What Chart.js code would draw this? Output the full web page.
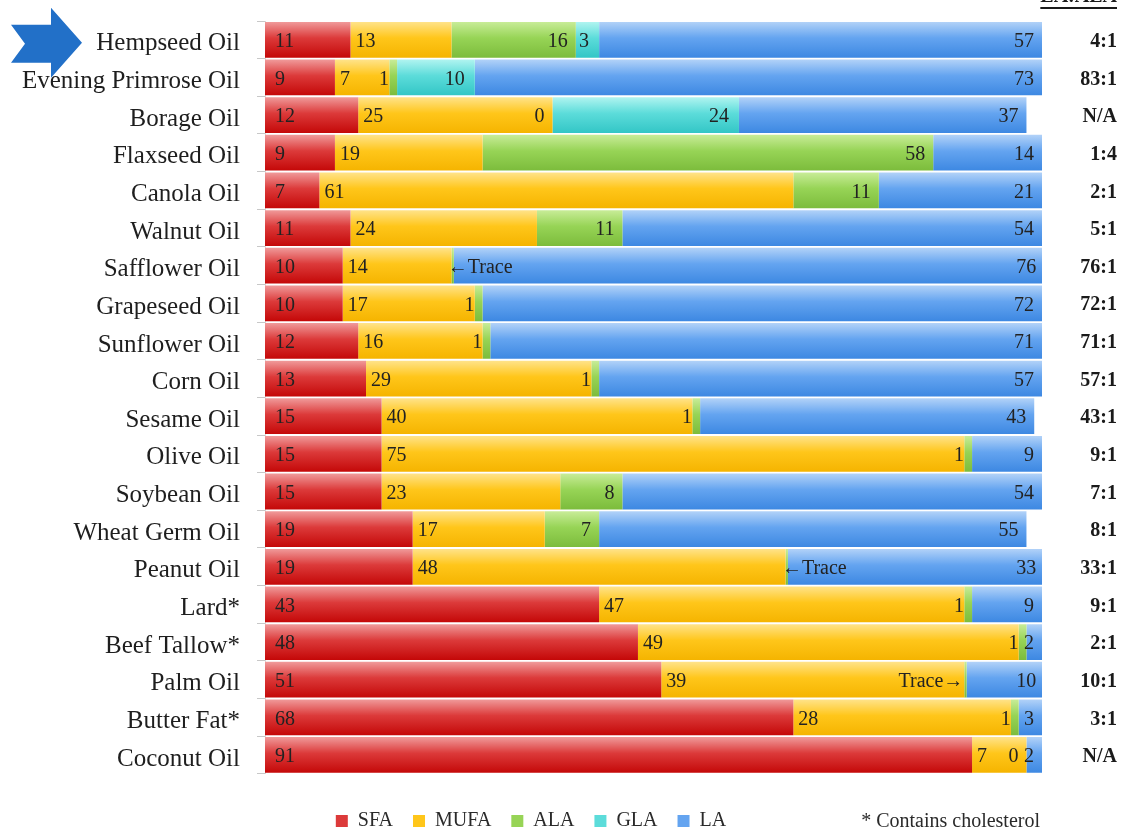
<!DOCTYPE html>
<html>
<head>
<meta charset="utf-8">
<script src="https://cdn.jsdelivr.net/npm/chart.js@4/dist/chart.umd.min.js"></script>
<style>
  html, body { margin: 0; padding: 0; background: #ffffff; }
  #wrap { width: 1126px; height: 834px; position: relative; }
</style>
</head>
<body>
<div id="wrap"><canvas id="chart" width="1126" height="834"></canvas></div>
<script>
// Fatty acid profile of common fats and oils (% of total fat)
const oils = ['Hempseed Oil', 'Evening Primrose Oil', 'Borage Oil', 'Flaxseed Oil', 'Canola Oil',
  'Walnut Oil', 'Safflower Oil', 'Grapeseed Oil', 'Sunflower Oil', 'Corn Oil', 'Sesame Oil',
  'Olive Oil', 'Soybean Oil', 'Wheat Germ Oil', 'Peanut Oil', 'Lard*', 'Beef Tallow*',
  'Palm Oil', 'Butter Fat*', 'Coconut Oil'];

// "Trace" amounts are drawn as a hairline sliver
const TRACE = 0.3;

const sfa  = [11, 9, 12, 9, 7, 11, 10, 10, 12, 13, 15, 15, 15, 19, 19, 43, 48, 51, 68, 91];
const mufa = [13, 7, 25, 19, 61, 24, 14, 17, 16, 29, 40, 75, 23, 17, 48, 47, 49, 39, 28, 7];
const ala  = [16, 1, 0, 58, 11, 11, TRACE, 1, 1, 1, 1, 1, 8, 7, TRACE, 1, 1, TRACE, 1, 0];
const gla  = [3, 10, 24, null, null, null, null, null, null, null, null, null, null, null, null, null, null, null, null, null];
const la   = [57, 73, 37, 14, 21, 54, 76, 72, 71, 57, 43, 9, 54, 55, 33, 9, 2, 10, 3, 2];

// LA : ALA ratio column
const ratios = ['4:1', '83:1', 'N/A', '1:4', '2:1', '5:1', '76:1', '72:1', '71:1', '57:1', '43:1',
  '9:1', '7:1', '8:1', '33:1', '9:1', '2:1', '10:1', '3:1', 'N/A'];

// Notes written in place of a number where ALA is only a trace
const traceNotes = { 6: '\u2190Trace', 14: '\u2190Trace', 17: 'Trace\u2192' };

const seriesNames = ['SFA', 'MUFA', 'ALA', 'GLA', 'LA'];
const ratioHeader = 'LA:ALA';
const footNote = '* Contains cholesterol';

const SERIF = '"Liberation Serif", "DejaVu Serif", serif';
const BAR_PCT = 0.95;

// light-top glossy gradient for each series
const palette = {
  SFA:  ['#f09a9a', '#dc3a3a', '#c40808'],
  MUFA: ['#ffe38a', '#ffc61a', '#f5b400'],
  ALA:  ['#c8ec98', '#97d456', '#7cbc3c'],
  GLA:  ['#b0f4f0', '#5cdcda', '#33c6c6'],
  LA:   ['#b2d2f8', '#64a4f0', '#3d88e2']
};

function gradientFor(name) {
  const stops = palette[name];
  return (ctx) => {
    const chart = ctx.chart;
    const y = chart.scales && chart.scales.y;
    if (ctx.type !== 'data' || !y || !isFinite(y.getPixelForValue(0))) return stops[1];
    const c = y.getPixelForValue(ctx.dataIndex);
    const h = Math.abs(y.getPixelForValue(1) - y.getPixelForValue(0)) * BAR_PCT;
    const g = chart.ctx.createLinearGradient(0, c - h / 2, 0, c + h / 2);
    g.addColorStop(0, stops[0]);
    g.addColorStop(0.45, stops[1]);
    g.addColorStop(1, stops[2]);
    return g;
  };
}

// where each series writes its value inside the segment
const labelSide = { SFA: ['start', 10], MUFA: ['start', 5], ALA: ['end', 8], GLA: ['end', 10], LA: ['end', 8] };

const valueLabels = {
  id: 'valueLabels',
  afterDatasetsDraw(chart) {
    const ctx = chart.ctx;
    ctx.save();
    ctx.font = '20px ' + SERIF;
    ctx.fillStyle = '#222';
    ctx.textBaseline = 'middle';
    chart.data.datasets.forEach((ds, di) => {
      const meta = chart.getDatasetMeta(di);
      const [side, pad] = labelSide[ds.label];
      meta.data.forEach((bar, i) => {
        const v = ds.data[i];
        if (v === null || v === undefined) return;
        const { x, base, y } = bar.getProps(['x', 'base', 'y'], true);
        const yy = y + 2;
        if (ds.label === 'ALA' && traceNotes[i]) {
          const note = traceNotes[i];
          if (note.startsWith('\u2190')) {
            ctx.textAlign = 'left';
            ctx.fillText(note, Math.max(x, base) - 6, yy);
          } else {
            ctx.textAlign = 'right';
            ctx.fillText(note, Math.min(x, base) - 1, yy);
          }
          return;
        }
        if (side === 'start') {
          ctx.textAlign = 'left';
          ctx.fillText(String(v), Math.min(x, base) + pad, yy);
        } else {
          ctx.textAlign = 'right';
          ctx.fillText(String(v), Math.max(x, base) - pad, yy);
        }
      });
    });
    ctx.restore();
  }
};

// ratio column, its header, the footnote and the pointer arrow
const extras = {
  id: 'extras',
  afterDraw(chart) {
    const ctx = chart.ctx;
    const y = chart.scales.y;
    const area = chart.chartArea;
    ctx.save();
    ctx.fillStyle = '#1a1a1a';
    ctx.font = 'bold 20px ' + SERIF;
    ctx.textAlign = 'right';
    ctx.textBaseline = 'middle';
    const colRight = area.right + 75;
    ratios.forEach((r, i) => ctx.fillText(r, colRight, y.getPixelForValue(i) + 2));

    // header, partly cut off by the top edge
    ctx.textBaseline = 'alphabetic';
    ctx.fillText(ratioHeader, colRight, 2);
    const hw = ctx.measureText(ratioHeader).width;
    ctx.fillRect(colRight - hw, 7, hw, 2);

    // footnote next to the legend
    const lg = chart.legend;
    if (lg && lg.legendHitBoxes && lg.legendHitBoxes.length) {
      const hb = lg.legendHitBoxes[0];
      ctx.font = '20px ' + SERIF;
      ctx.fillStyle = '#2a2a2a';
      ctx.textBaseline = 'middle';
      ctx.textAlign = 'right';
      ctx.fillText(footNote, area.right - 2, hb.top + hb.height / 2 + 1);
    }

    // blue pointer arrow beside the first row
    const cy = y.getPixelForValue(0) + 3;
    ctx.fillStyle = '#2270c8';
    ctx.beginPath();
    ctx.moveTo(11, cy - 18);
    ctx.lineTo(51, cy - 18);
    ctx.lineTo(51, cy - 35);
    ctx.lineTo(82, cy);
    ctx.lineTo(51, cy + 35);
    ctx.lineTo(51, cy + 20);
    ctx.lineTo(11, cy + 20);
    ctx.lineTo(25, cy + 1);
    ctx.closePath();
    ctx.fill();
    ctx.restore();
  }
};

const seriesData = { SFA: sfa, MUFA: mufa, ALA: ala, GLA: gla, LA: la };

new Chart(document.getElementById('chart'), {
  type: 'bar',
  data: {
    labels: oils,
    datasets: seriesNames.map((name) => ({
      label: name,
      data: seriesData[name],
      backgroundColor: gradientFor(name),
      borderWidth: 0,
      barPercentage: BAR_PCT,
      categoryPercentage: 1.0
    }))
  },
  options: {
    indexAxis: 'y',
    responsive: false,
    animation: false,
    layout: { padding: { left: 20, right: 84, top: 21, bottom: -7 } },
    scales: {
      x: { display: false, stacked: true, min: 0, max: 100 },
      y: {
        stacked: true,
        afterFit: (scale) => { scale.width = 245; scale.paddingTop = 0; scale.paddingBottom = 0; },
        grid: { display: true, drawOnChartArea: false, drawTicks: true, tickLength: 8, color: '#c8c8c8', offset: true },
        border: { display: true, color: '#d8d8d8' },
        ticks: { padding: 17, labelOffset: 4, color: '#1e1e1e', font: { family: SERIF, size: 25 } }
      }
    },
    plugins: {
      legend: {
        position: 'bottom',
        align: 'center',
        title: { display: true, text: ' ', font: { size: 1 }, padding: { top: 0, bottom: 16 } },
        labels: {
          boxWidth: 12,
          boxHeight: 12,
          padding: 20,
          color: '#2a2a2a',
          font: { family: SERIF, size: 20 },
          generateLabels: (chart) => seriesNames.map((name, i) => ({
            text: name,
            fillStyle: palette[name][1],
            strokeStyle: palette[name][1],
            fontColor: '#2a2a2a',
            lineWidth: 0,
            datasetIndex: i
          }))
        }
      },
      tooltip: { enabled: false }
    }
  },
  plugins: [valueLabels, extras]
});
</script>
</body>
</html>
